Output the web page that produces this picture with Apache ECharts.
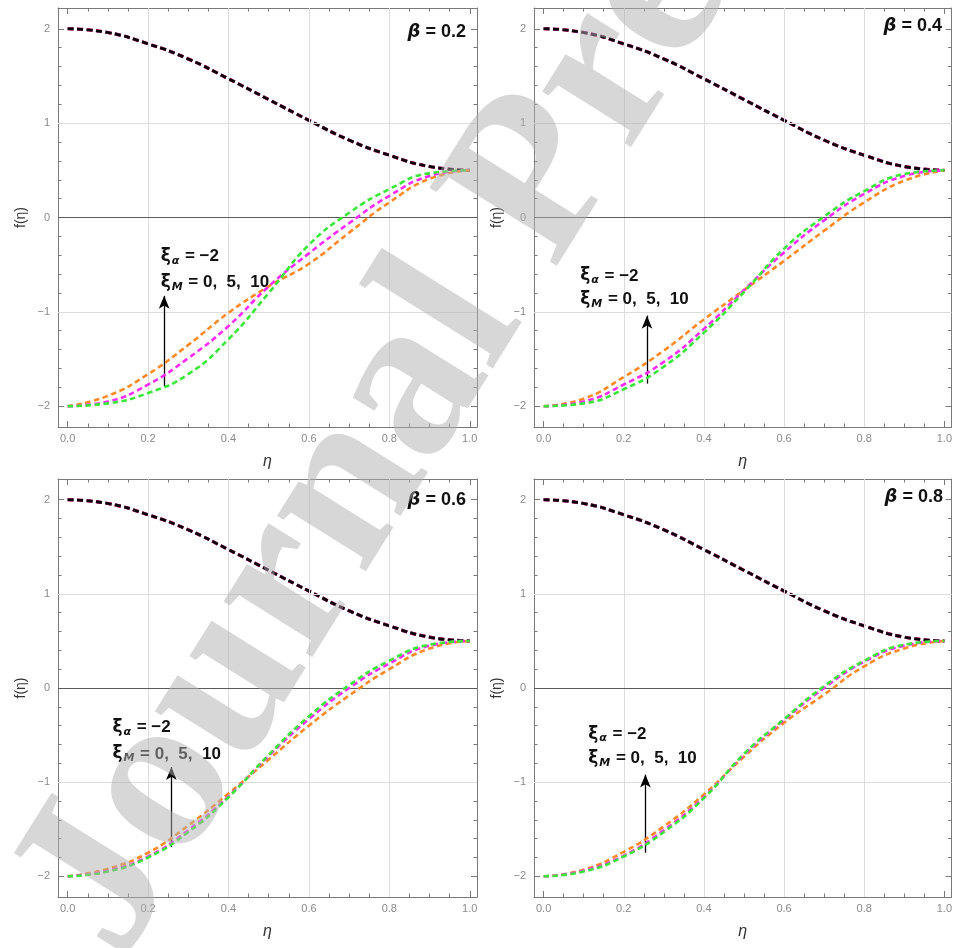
<!DOCTYPE html>
<html>
<head>
<meta charset="utf-8">
<title>f(η) vs η</title>
<script src="https://cdn.jsdelivr.net/npm/echarts@6/dist/echarts.min.js"></script>
<style>
  html, body { margin: 0; padding: 0; background: #fff; }
  #chart { width: 955px; height: 948px; }
</style>
</head>
<body>
<div id="chart"></div>
<script>
// eta grid and curves
var eta = [0, 0.1, 0.2, 0.3, 0.4, 0.5, 0.6, 0.7, 0.8, 0.9, 1.0];
var upperCurve = [2, 1.96, 1.84, 1.68, 1.47, 1.25, 1.03, 0.82, 0.66, 0.54, 0.5];

var orangeB02 = [-2, -1.89, -1.66, -1.35, -1.01, -0.73, -0.49, -0.16, 0.16, 0.41, 0.5];
var magentaB02 = [-2, -1.95, -1.77, -1.49, -1.15, -0.73, -0.38, -0.06, 0.23, 0.44, 0.5];
var greenB02 = [-2, -1.97, -1.86, -1.66, -1.29, -0.80, -0.29, 0.05, 0.30, 0.47, 0.5];

var orangeB04 = [-2, -1.92, -1.69, -1.41, -1.08, -0.77, -0.46, -0.14, 0.16, 0.39, 0.5];
var magentaB04 = [-2, -1.95, -1.77, -1.53, -1.18, -0.77, -0.37, -0.03, 0.25, 0.44, 0.5];
var greenB04 = [-2, -1.97, -1.82, -1.58, -1.22, -0.79, -0.33, 0.01, 0.28, 0.46, 0.5];

var orangeB06 = [-2, -1.92, -1.75, -1.46, -1.12, -0.76, -0.40, -0.08, 0.20, 0.42, 0.5];
var magentaB06 = [-2, -1.94, -1.79, -1.51, -1.15, -0.72, -0.33, 0.0, 0.26, 0.45, 0.5];
var greenB06 = [-2, -1.95, -1.80, -1.53, -1.16, -0.71, -0.30, 0.03, 0.29, 0.46, 0.5];

var orangeB08 = [-2, -1.93, -1.74, -1.47, -1.13, -0.73, -0.37, -0.07, 0.23, 0.42, 0.5];
var magentaB08 = [-2, -1.94, -1.78, -1.51, -1.16, -0.71, -0.34, 0.0, 0.28, 0.45, 0.5];
var greenB08 = [-2, -1.95, -1.79, -1.53, -1.17, -0.70, -0.33, 0.02, 0.29, 0.46, 0.5];

var betaLabels = ['0.2', '0.4', '0.6', '0.8'];
var lowerSets = [
  [orangeB02, magentaB02, greenB02],
  [orangeB04, magentaB04, greenB04],
  [orangeB06, magentaB06, greenB06],
  [orangeB08, magentaB08, greenB08]
];

// tick labels
var xMajorTicks = [0, 0.2, 0.4, 0.6, 0.8, 1.0];
var xMinorTicks = [0.05, 0.1, 0.15, 0.25, 0.3, 0.35, 0.45, 0.5, 0.55, 0.65, 0.7, 0.75, 0.85, 0.9, 0.95];
var yMajorTicks = [-2, -1, 0, 1, 2];
var yMinorTicks = [-1.8, -1.6, -1.4, -1.2, -0.8, -0.6, -0.4, -0.2, 0.2, 0.4, 0.6, 0.8, 1.2, 1.4, 1.6, 1.8];
var xGridLines = [0.2, 0.4, 0.6, 0.8];
var yGridLines = [-1, 1];

// annotation anchors (data coords) for each panel
var notes = [
  { tx: 0.23, ty1: -0.41, ty2: -0.69, ax: 0.24, ay0: -1.79, ay1: -0.83 },
  { tx: 0.09, ty1: -0.62, ty2: -0.87, ax: 0.258, ay0: -1.76, ay1: -1.04 },
  { tx: 0.11, ty1: -0.42, ty2: -0.70, ax: 0.258, ay0: -1.69, ay1: -0.84 },
  { tx: 0.11, ty1: -0.49, ty2: -0.75, ax: 0.254, ay0: -1.75, ay1: -0.92 }
];

var panels = [
  { left: 58, top: 8, height: 419, betaX: 466, betaY: 32 },
  { left: 534, top: 8, height: 419, betaX: 942, betaY: 26 },
  { left: 58, top: 479, height: 418, betaX: 466, betaY: 500 },
  { left: 534, top: 479, height: 418, betaX: 943, betaY: 497 }
];

var frameColor = '#7a7a7a';
var labelColor = '#8a8a8a';
var upperColors = ['#d02020', '#b030b0', '#000000'];
var lowerColors = ['#ff8a25', '#ff2cff', '#3ae83a'];
var font = 'Liberation Sans';

function pairs(ys) {
  return eta.map(function (x, i) { return [x, ys[i]]; });
}

var grid = [], xAxis = [], yAxis = [], series = [], graphic = [];

panels.forEach(function (p, g) {
  grid.push({ left: p.left, top: p.top, width: 419, height: p.height });

  // major bottom (with labels), major top, then two minor axes (ECharts flips the side)
  [['bottom', xMajorTicks, 6, true], ['top', xMajorTicks, 6, false],
   ['bottom', xMinorTicks, 3.5, false], ['top', xMinorTicks, 3.5, false]].forEach(function (a, k) {
    xAxis.push({
      gridIndex: g, type: 'value', min: -0.024, max: 1.018, position: a[0],
      axisLine: { show: k < 2, onZero: false, lineStyle: { color: frameColor, width: 1 } },
      axisTick: { show: true, inside: true, length: a[2], customValues: a[1], lineStyle: { color: frameColor } },
      axisLabel: {
        show: a[3], customValues: a[1], color: labelColor, fontSize: 11, fontFamily: font, margin: 6,
        formatter: function (v) { return v.toFixed(1); }
      },
      splitLine: { show: false },
      name: a[3] ? 'η' : '', nameLocation: 'middle', nameGap: 27,
      nameTextStyle: { fontStyle: 'italic', fontSize: 16, color: '#333', fontFamily: font }
    });
  });
  [['left', yMajorTicks, 6, true], ['right', yMajorTicks, 6, false],
   ['left', yMinorTicks, 3.5, false], ['right', yMinorTicks, 3.5, false]].forEach(function (a, k) {
    yAxis.push({
      gridIndex: g, type: 'value', min: -2.22, max: 2.22, position: a[0],
      axisLine: { show: k < 2, onZero: false, lineStyle: { color: frameColor, width: 1 } },
      axisTick: { show: true, inside: true, length: a[2], customValues: a[1], lineStyle: { color: frameColor } },
      axisLabel: {
        show: a[3], customValues: a[1], color: labelColor, fontSize: 11, fontFamily: font, margin: 8,
        formatter: function (v) { return v < 0 ? '\u2212' + Math.abs(v) : String(v); }
      },
      splitLine: { show: false },
      name: a[3] ? 'f(η)' : '', nameLocation: 'middle', nameGap: 30, nameRotate: 90,
      nameTextStyle: { fontSize: 14, color: '#333', fontFamily: font }
    });
  });

  var xi = g * 4, yi = g * 4;

  // grid lines and zero axis
  series.push({
    type: 'line', xAxisIndex: xi, yAxisIndex: yi, data: [], z: 1, silent: true,
    markLine: {
      silent: true, symbol: 'none', animation: false, label: { show: false },
      data: xGridLines.map(function (v) { return { xAxis: v, lineStyle: { color: '#dcdcdc', width: 1, type: 'solid' } }; })
        .concat(yGridLines.map(function (v) { return { yAxis: v, lineStyle: { color: '#dcdcdc', width: 1, type: 'solid' } }; }))
        .concat([{ yAxis: 0, lineStyle: { color: '#5a5a5a', width: 1.2, type: 'solid' } }])
    }
  });

  // upper curves (overlapping)
  upperColors.forEach(function (c, k) {
    series.push({
      type: 'line', xAxisIndex: xi, yAxisIndex: yi, data: pairs(upperCurve),
      smooth: 0.5, showSymbol: false, z: 2 + k,
      lineStyle: { color: c, width: k === 2 ? 2.6 : 3.2, type: [6, 3.5] }
    });
  });

  // lower curves
  lowerSets[g].forEach(function (ys, k) {
    series.push({
      type: 'line', xAxisIndex: xi, yAxisIndex: yi, data: pairs(ys),
      smooth: 0.5, showSymbol: false, z: 5 + k,
      lineStyle: { color: lowerColors[k], width: 2.6, type: [5.5, 3.5] }
    });
  });

  // arrow and annotation text
  var n = notes[g];
  var rich = {
    x: { fontSize: 17, fontWeight: 'bold', color: '#111', fontFamily: 'DejaVu Sans' },
    s: { fontSize: 11, fontWeight: 'bold', fontStyle: 'italic', color: '#111', fontFamily: 'DejaVu Sans', padding: [9, 1, 0, 1] },
    t: { fontSize: 17, fontWeight: 'bold', color: '#111', fontFamily: font }
  };
  series.push({
    type: 'line', xAxisIndex: xi, yAxisIndex: yi, data: [], z: 20, silent: true,
    markLine: {
      silent: true, animation: false, symbol: ['none', 'arrow'], symbolSize: [8, 13],
      label: { show: false },
      lineStyle: { color: '#000', width: 1.3, type: 'solid' },
      data: [[{ coord: [n.ax, n.ay0] }, { coord: [n.ax, n.ay1] }]]
    },
    markPoint: {
      silent: true, animation: false, symbol: 'circle', symbolSize: 1,
      itemStyle: { color: 'rgba(0,0,0,0)' },
      label: { show: true, position: 'right', distance: 0, rich: rich },
      data: [
        { coord: [n.tx, n.ty1], label: { formatter: '{x|ξ}{s|α}{t| = \u22122}' } },
        { coord: [n.tx, n.ty2], label: { formatter: '{x|ξ}{s|M}{t| = 0,  5,  10}' } }
      ]
    }
  });

  graphic.push({
    type: 'text', x: p.betaX, y: p.betaY, z: 50,
    style: {
      text: '{b|β}{t| = ' + betaLabels[g] + '}', align: 'right', verticalAlign: 'middle',
      rich: {
        b: { fontSize: 18, fontWeight: 'bold', fontStyle: 'italic', fontFamily: 'DejaVu Sans', fill: '#111' },
        t: { fontSize: 18, fontWeight: 'bold', fontFamily: font, fill: '#111' }
      }
    }
  });
});

// watermark
graphic.push({
  type: 'text', x: 71, y: 932, rotation: 58 * Math.PI / 180, z: 100, silent: true,
  style: {
    text: 'Journal Pre-proof', fontSize: 228, fontWeight: 'bold', fontFamily: 'Liberation Serif',
    fill: 'rgba(175,175,175,0.5)', verticalAlign: 'middle'
  }
});

var chart = echarts.init(document.getElementById('chart'));
var option = {
  animation: false,
  backgroundColor: '#fff',
  grid: grid,
  xAxis: xAxis,
  yAxis: yAxis,
  series: series,
  graphic: graphic
};
chart.setOption(option);
</script>
</body>
</html>
